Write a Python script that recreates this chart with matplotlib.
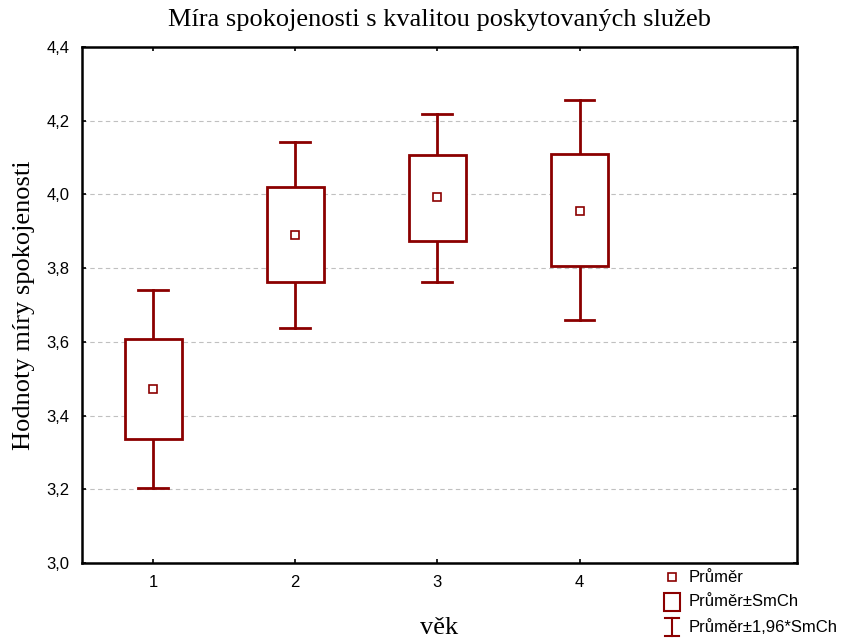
import matplotlib.pyplot as plt
from matplotlib.patches import Rectangle
from matplotlib.lines import Line2D

# data
groups = [1, 2, 3, 4]
means = [3.472, 3.889, 3.993, 3.955]
se_low = [3.336, 3.762, 3.874, 3.806]
se_high = [3.607, 4.020, 4.107, 4.110]
ci_low = [3.203, 3.638, 3.762, 3.659]
ci_high = [3.742, 4.142, 4.219, 4.256]

red = '#8b0000'
serif = ['Liberation Serif', 'DejaVu Serif']
sans = ['Liberation Sans', 'DejaVu Sans']

fig = plt.figure(figsize=(8.55, 6.38), dpi=100)
ax = fig.add_axes([0.0959, 0.1176, 0.8363, 0.8087])

box_w = 0.4
cap_w = 0.21
for x, m, lo, hi, cl, ch in zip(groups, means, se_low, se_high, ci_low, ci_high):
    # whiskers
    ax.plot([x, x], [hi, ch], color=red, lw=2, zorder=3)
    ax.plot([x, x], [cl, lo], color=red, lw=2, zorder=3)
    ax.plot([x - cap_w / 2, x + cap_w / 2], [ch, ch], color=red, lw=2, zorder=3)
    ax.plot([x - cap_w / 2, x + cap_w / 2], [cl, cl], color=red, lw=2, zorder=3)
    # box
    ax.add_patch(Rectangle((x - box_w / 2, lo), box_w, hi - lo, facecolor='white',
                           edgecolor=red, lw=2, zorder=3))
    # mean
    ax.plot(x, m, marker='s', ms=6, mfc='white', mec=red, mew=1.2, zorder=4)

ax.set_xlim(0.5, 5.53)
ax.set_ylim(3.0, 4.4)
ax.set_xticks(groups)
ax.set_xticklabels([str(g) for g in groups], fontfamily=sans, fontsize=12)
yt = [3.0, 3.2, 3.4, 3.6, 3.8, 4.0, 4.2, 4.4]
ax.set_yticks(yt)
ax.set_yticklabels([f'{v:.1f}'.replace('.', ',') for v in yt], fontfamily=sans, fontsize=12)
ax.tick_params(direction='in', top=True, right=True, length=3, width=1.2, pad=9)
ax.grid(axis='y', color='#c0c0c0', ls=(0, (4, 3)), lw=0.8)
ax.set_axisbelow(True)
for s in ax.spines.values():
    s.set_linewidth(1.8)

ax.set_title('Míra spokojenosti s kvalitou poskytovaných služeb', fontfamily=serif,
             fontsize=19, pad=15)
ax.set_ylabel('Hodnoty míry spokojenosti', fontfamily=serif, fontsize=19, labelpad=8)
ax.set_xlabel('věk', fontfamily=serif, fontsize=19, labelpad=19)

# legend drawn in figure coordinates
W, H = 855, 638
def fx(px):
    return px / W
def fy(py):
    return 1 - py / H

fig.add_artist(Line2D([fx(672)], [fy(577)], marker='s', ms=6, mfc='white', mec=red,
                      mew=1.2, transform=fig.transFigure))
fig.add_artist(Rectangle((fx(664), fy(611)), 16 / W, 18 / H, facecolor='white',
                         edgecolor=red, lw=1.5, transform=fig.transFigure))
fig.add_artist(Line2D([fx(672), fx(672)], [fy(618), fy(636)], color=red, lw=1.5,
                      transform=fig.transFigure))
fig.add_artist(Line2D([fx(665), fx(679)], [fy(618), fy(618)], color=red, lw=1.5,
                      transform=fig.transFigure))
fig.add_artist(Line2D([fx(665), fx(679)], [fy(636), fy(636)], color=red, lw=1.5,
                      transform=fig.transFigure))
labels = ['Průměr', 'Průměr±SmCh', 'Průměr±1,96*SmCh']
for lab, py in zip(labels, [577, 602, 627]):
    fig.text(fx(689), fy(py), lab, fontfamily=sans, fontsize=12, va='center', ha='left')

fig.savefig('out.png', dpi=100)
